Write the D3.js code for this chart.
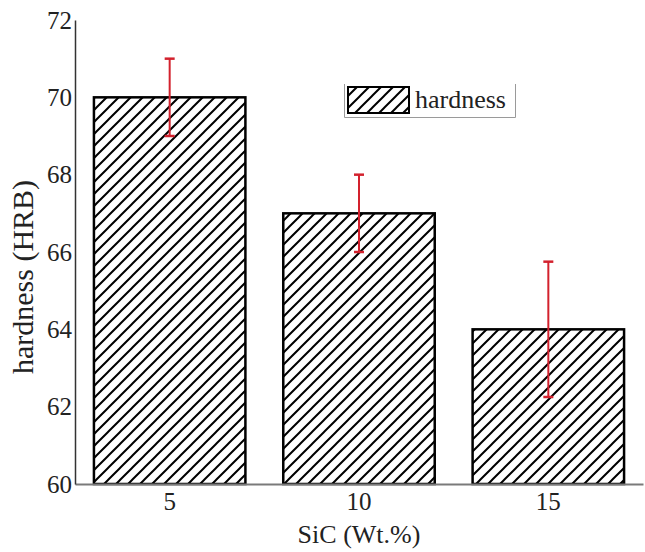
<!DOCTYPE html>
<html>
<head>
<meta charset="utf-8">
<script src="https://cdn.jsdelivr.net/npm/d3@7"></script>
<style>
  body { margin: 0; background: #fff; }
  svg text { font-family: "Liberation Serif", "DejaVu Serif", serif; fill: #222; }
</style>
</head>
<body>
<div id="viz"></div>
<script>
const width = 645;
const height = 552;
const margin = {top: 20, right: 2, bottom: 68, left: 75};

// data
const categories = ['5', '10', '15'];
const hardness = [70, 67, 64];
const errors = [1, 1, 1.75];
const yTicks = [60, 62, 64, 66, 68, 70, 72];

const svg = d3.select('#viz')
  .append('svg')
    .attr('width', width)
    .attr('height', height);

// hatch pattern "////"
const defs = svg.append('defs');
defs.append('pattern')
    .attr('id', 'hatch')
    .attr('patternUnits', 'userSpaceOnUse')
    .attr('width', 12)
    .attr('height', 12)
  .append('path')
    .attr('d', 'M-3,3 l6,-6 M0,12 l12,-12 M9,15 l6,-6')
    .attr('stroke', '#000')
    .attr('stroke-width', 2);

const xScale = d3.scaleBand()
  .domain(categories)
  .range([margin.left, width - margin.right])
  .paddingInner(0.2)
  .paddingOuter(0.1);

const yScale = d3.scaleLinear()
  .domain([60, 72])
  .range([height - margin.bottom, margin.top]);

// bars
svg.selectAll('rect.bar')
  .data(hardness)
  .join('rect')
    .attr('class', 'bar')
    .attr('x', (d, i) => xScale(categories[i]))
    .attr('y', d => yScale(d))
    .attr('width', xScale.bandwidth())
    .attr('height', d => yScale(60) - yScale(d))
    .attr('fill', 'url(#hatch)')
    .attr('stroke', '#000')
    .attr('stroke-width', 2.5);

// error bars
const errColor = '#d3212d';
const cap = 5;
const eb = svg.append('g').attr('class', 'errors');
hardness.forEach((d, i) => {
  const cx = xScale(categories[i]) + xScale.bandwidth() / 2;
  const y0 = yScale(d - errors[i]);
  const y1 = yScale(d + errors[i]);
  eb.append('line')
    .attr('x1', cx).attr('x2', cx).attr('y1', y0).attr('y2', y1)
    .attr('stroke', errColor).attr('stroke-width', 2);
  [y0, y1].forEach(y => {
    eb.append('line')
      .attr('x1', cx - cap).attr('x2', cx + cap).attr('y1', y).attr('y2', y)
      .attr('stroke', errColor).attr('stroke-width', 2.5);
  });
});

// x axis
const xAxis = d3.axisBottom(xScale).tickSize(0).tickPadding(8);
const xAxisGroup = svg.append('g')
    .attr('transform', `translate(0, ${yScale(60)})`)
    .attr('font-family', null)
    .call(xAxis);
xAxisGroup.select('.domain')
    .attr('stroke', '#7a7a7a')
    .attr('stroke-width', 2);
xAxisGroup.selectAll('text')
    .style('font-family', '"Liberation Serif", serif')
    .style('font-size', '25px')
    .attr('fill', '#222');

// y axis
const yAxis = d3.axisLeft(yScale).tickValues(yTicks).tickSize(0).tickPadding(3);
const yAxisGroup = svg.append('g')
    .attr('transform', `translate(${margin.left}, 0)`)
    .call(yAxis);
yAxisGroup.select('.domain')
    .attr('stroke', '#333')
    .attr('stroke-width', 1.5);
yAxisGroup.selectAll('text')
    .style('font-family', '"Liberation Serif", serif')
    .style('font-size', '25px')
    .attr('fill', '#222');

// axis titles
svg.append('text')
    .attr('x', (margin.left + width - margin.right) / 2)
    .attr('y', 543)
    .attr('text-anchor', 'middle')
    .style('font-size', '26px')
    .text('SiC (Wt.%)');

svg.append('text')
    .attr('transform', 'translate(33, 277) rotate(-90)')
    .attr('text-anchor', 'middle')
    .style('font-size', '30px')
    .text('hardness (HRB)');

// legend
const legend = svg.append('g').attr('class', 'legend');
legend.append('path')
    .attr('d', 'M344.5,84 V117.5 H515.5 V84')
    .attr('fill', 'none')
    .attr('stroke', '#9a9a9a')
    .attr('stroke-width', 1);
legend.append('rect')
    .attr('x', 348).attr('y', 87)
    .attr('width', 61).attr('height', 26)
    .attr('fill', 'url(#hatch)')
    .attr('stroke', '#000')
    .attr('stroke-width', 2);
legend.append('text')
    .attr('x', 415).attr('y', 108)
    .style('font-size', '26px')
    .text('hardness');
</script>
</body>
</html>
